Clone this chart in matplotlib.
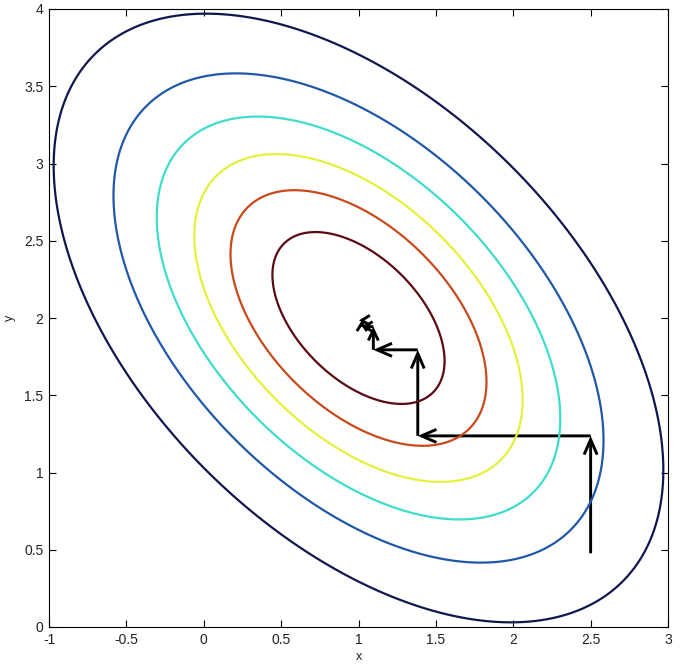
import numpy as np
import matplotlib
matplotlib.use("Agg")
import matplotlib.pyplot as plt
from matplotlib.patches import FancyArrowPatch

# ---- data ----
center = (1.0, 2.0)                     # minimum of the quadratic
coef_xx, coef_yy, coef_xy = 1.0, 1.0, 1.0
levels = [0.232, 0.513, 0.844, 1.275, 1.88, 2.91]           # inner -> outer
level_colors = ["#5a0a12", "#c84a1c", "#e6f03c", "#40dccb", "#2058a8", "#12164e"]

path_x = [2.5, 2.5, 1.383, 1.383, 1.096, 1.096, 1.022, 1.022, 1.004]
path_y = [0.477, 1.237, 1.237, 1.794, 1.794, 1.944, 1.944, 1.985, 1.985]

x_ticks = [-1, -0.5, 0, 0.5, 1, 1.5, 2, 2.5, 3]
x_tick_labels = ["-1", "-0.5", "0", "0.5", "1", "1.5", "2", "2.5", "3"]
y_ticks = [0, 0.5, 1, 1.5, 2, 2.5, 3, 3.5, 4]
y_tick_labels = ["0", "0.5", "1", "1.5", "2", "2.5", "3", "3.5", "4"]

# ---- figure ----
W, H, DPI = 681, 669, 100
fig = plt.figure(figsize=(W / DPI, H / DPI), dpi=DPI)
ax = fig.add_axes([49 / W, 42 / H, 619 / W, 618 / H])

gx = np.linspace(-1, 3, 500)
gy = np.linspace(0, 4, 500)
X, Y = np.meshgrid(gx, gy)
U, V = X - center[0], Y - center[1]
Z = coef_xx * U**2 + coef_yy * V**2 + coef_xy * U * V
ax.contour(X, Y, Z, levels=levels, colors=level_colors, linewidths=1.6)

# arrows of the coordinate-descent path
px_per_unit = 619 / 4.0
for i in range(len(path_x) - 1):
    a = (path_x[i], path_y[i])
    b = (path_x[i + 1], path_y[i + 1])
    L = np.hypot(b[0] - a[0], b[1] - a[1]) * px_per_unit
    hl = min(15.0, max(8.0, 0.45 * L)) * 0.72
    hw = min(6.5, max(5.0, 0.2 * L)) * 0.72
    arr = FancyArrowPatch(a, b, arrowstyle=f"->,head_length={hl},head_width={hw}",
                          color="black", lw=2.1, shrinkA=0, shrinkB=0,
                          mutation_scale=1, joinstyle="miter", capstyle="butt")
    ax.add_patch(arr)

ax.set_xlim(-1, 3)
ax.set_ylim(0, 4)
ax.set_xticks(x_ticks)
ax.set_xticklabels(x_tick_labels)
ax.set_yticks(y_ticks)
ax.set_yticklabels(y_tick_labels)
ax.tick_params(direction="in", length=5, width=0.8, top=True, right=True,
               labelsize=10, pad=4, labelcolor="#222222")
for lab in ax.get_xticklabels() + ax.get_yticklabels():
    lab.set_fontfamily("Liberation Sans")
for s in ax.spines.values():
    s.set_linewidth(0.8)
ax.set_xlabel("x", fontsize=9, family="Liberation Sans", labelpad=3, color="#222222")
ax.set_ylabel("y", fontsize=9, family="Liberation Sans", labelpad=6, color="#222222")

fig.savefig("out.png", dpi=DPI)
